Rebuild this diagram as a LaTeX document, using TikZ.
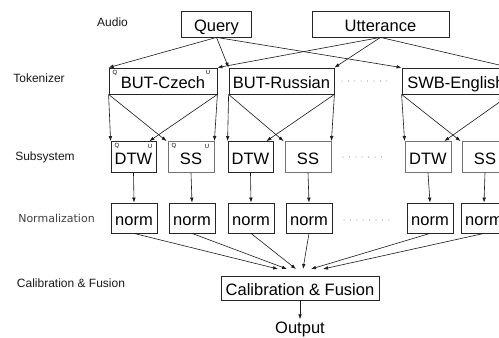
\documentclass[tikz,border=0pt]{standalone}
\usepackage{fontspec}
\setmainfont{Liberation Sans}
\newfontfamily\labfont{DejaVu Sans}
\usetikzlibrary{arrows.meta,calc}
\begin{document}
\begin{tikzpicture}[x=1pt,y=-1pt,
  box/.style={draw=black!85, line width=0.8pt, inner sep=0pt, text height=16pt, text depth=1pt, font=\fontsize{16.5}{16.5}\selectfont},
  gbox/.style={box, draw=black!55},
  lab/.style={font=\fontsize{12}{12}\selectfont, text=black!90},
  arr/.style={-{Latex[length=5pt,width=3.6pt]}, line width=0.6pt, black!90},
  sup/.style={font=\fontsize{6}{6}\selectfont, inner sep=0pt},
  dotrow/.style={line width=1pt, line cap=round, dash pattern=on 0pt off 6.4pt, black!60}]
\clip (0,0) rectangle (499,338);
\fill[white] (0,0) rectangle (499,338);

% labels
\node[lab] (lAudio) at (112.5,22) {Audio};
\node[lab] (lTok) at (39,78) {Tokenizer};
\node[lab] (lSub) at (45,157) {Subsystem};
\node[lab, font=\labfont\fontsize{11}{11}\selectfont, text=black!75] (lNorm) at (56.5,218) {Normalization};
\node[lab] (lCal) at (71,283) {Calibration \& Fusion};

% audio
\node[box, minimum width=70pt, minimum height=26pt] (query) at (216.5,24) {Query};
\node[box, minimum width=137pt, minimum height=26pt] (utt) at (380.5,24) {Utterance};

% tokenizers
\node[box, minimum width=108pt, minimum height=26pt] (tc) at (163,81) {BUT-Czech};
\node[box, minimum width=105pt, minimum height=26pt] (tr) at (281.5,81) {BUT-Russian};
\node[box, minimum width=108pt, minimum height=26pt] (te) at (456,81) {SWB-English};

% subsystems
\node[box, minimum width=45pt, minimum height=31pt] (d1) at (133.5,157) {DTW};
\node[gbox, minimum width=46pt, minimum height=31pt] (s1) at (191,157) {SS};
\node[box, minimum width=45pt, minimum height=31pt] (d2) at (250.5,157) {DTW};
\node[gbox, minimum width=46pt, minimum height=31pt] (s2) at (308,157) {SS};
\node[gbox, minimum width=46pt, minimum height=31pt] (d3) at (428,157) {DTW};
\node[gbox, minimum width=46pt, minimum height=31pt] (s3) at (485,157) {SS};

% norms
\foreach \n/\x in {n1/134, n2/192, n3/251, n4/309, n5/430, n6/484}
  \node[box, minimum width=46pt, minimum height=30pt] (\n) at (\x,218) {norm};

% calibration & output
\node[box, minimum width=158pt, minimum height=24pt] (cal) at (300,288) {Calibration \& Fusion};
\node[inner sep=2pt, font=\fontsize{16.5}{16.5}\selectfont] (out) at (300,329) {Output};

% Q / U marks
\node[sup] (q0) at (115,73) {Q};
\node[sup] (u0) at (208,72) {U};
\node[sup] (q1) at (117,146) {Q};
\node[sup] (u1) at (150,146) {U};
\node[sup] (q2) at (174,146) {Q};
\node[sup] (u2) at (207,146) {U};

% dots
\draw[dotrow] (342,81) -- (393,81);
\draw[dotrow] (343,157) -- (387,157);
\draw[dotrow] (344,220) -- (394,220);

% audio -> tokenizer
\draw[arr] (query.south) -- (tc.north west);
\draw[arr] (query.south) -- (tr.north west);
\draw[arr] (query.south) -- (te.north west);
\draw[arr] (utt.south) -- (tc.north east);
\draw[arr] (utt.south) -- (tr.north east);
\draw[arr] (utt.south) -- (te.north east);

% tokenizer -> subsystem
\foreach \t/\d/\s in {tc/d1/s1, tr/d2/s2, te/d3/s3}{
  \draw[arr] (\t.south west) -- (\d.north west);
  \draw[arr] (\t.south west) -- ($(\s.north west)+(-1,0)$);
  \draw[arr] (\t.south east) -- ($(\d.north east)+(-7,0)$);
  \draw[arr] (\t.south east) -- (\s.north east);
}

% subsystem -> norm
\foreach \s/\n in {d1/n1, s1/n2, d2/n3, s2/n4, d3/n5, s3/n6}
  \draw[arr] (\s.south) -- (\n.north);

% norm -> calibration
\coordinate (c1) at (278,269);
\coordinate (c2) at (287,269);
\coordinate (c3) at (296,269);
\coordinate (c4) at (303,269);
\coordinate (c5) at (311,269);
\coordinate (c6) at (323,269);
\foreach \n/\c in {n1/c1, n2/c2, n3/c3, n4/c4, n5/c5, n6/c6}
  \draw[arr] (\n.south) -- (\c);

\draw[arr] (cal.south) -- (out.north);
\end{tikzpicture}
\end{document}
